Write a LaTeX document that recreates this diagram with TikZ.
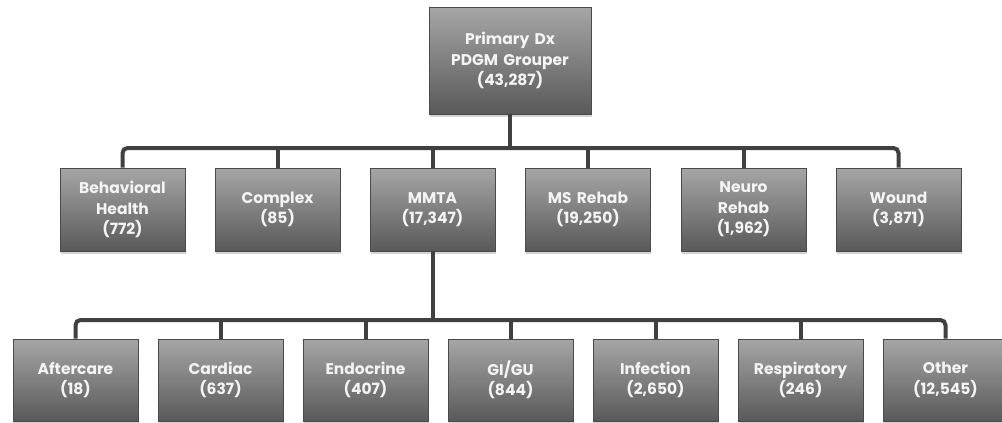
\documentclass[tikz,border=0pt]{standalone}
\usepackage{fontspec}
\setmainfont{Poppins}
\usetikzlibrary{shadows}
\definecolor{boxtop}{HTML}{A6A6A6}
\definecolor{boxbot}{HTML}{595959}
\definecolor{boxline}{HTML}{4A4A4A}
\definecolor{edge}{HTML}{404040}
\definecolor{txt}{HTML}{F4F4F4}
\begin{document}
\begin{tikzpicture}[x=1pt,y=-1pt,
  grp/.style={rectangle, draw=boxline, line width=0.8pt, top color=boxtop, bottom color=boxbot,
    minimum width=125pt, minimum height=83pt, text width=124pt, align=center, inner sep=0pt,
    text=txt, font=\bfseries\fontsize{15.5}{20.5}\selectfont,
    drop shadow={shadow xshift=0.5pt, shadow yshift=-3pt, opacity=0.35}},
  conn/.style={draw=edge, line width=4pt, rounded corners=5pt}]
\useasboundingbox (0,0) rectangle (1002,423);
% top
\node[grp, minimum width=162pt, minimum height=107pt, text width=160pt] (grp0) at (510,60.5){Primary Dx\\PDGM Grouper\\(43,287)};
% second row
\node[grp] (bh) at (122.5,209.5){Behavioral\\Health\\(772)};
\node[grp] (cx) at (277.5,209.5){Complex\\(85)};
\node[grp] (mmta) at (432.5,209.5){MMTA\\(17,347)};
\node[grp] (ms) at (588,209.5){MS Rehab\\(19,250)};
\node[grp] (nr) at (743.5,209.5){Neuro\\Rehab\\(1,962)};
\node[grp] (wd) at (898.5,209.5){Wound\\(3,871)};
% third row
\node[grp, minimum height=82pt] (af) at (75.5,380){Aftercare\\(18)};
\node[grp, minimum height=82pt] (cd) at (220.5,380){Cardiac\\(637)};
\node[grp, minimum height=82pt] (en) at (365.5,380){Endocrine\\(407)};
\node[grp, minimum height=82pt] (gi) at (510.5,380){GI/GU\\(844)};
\node[grp, minimum height=82pt] (inf) at (655.5,380){Infection\\(2,650)};
\node[grp, minimum height=82pt] (rs) at (800.5,380){Respiratory\\(246)};
\node[grp, minimum height=82pt] (ot) at (945.5,380){Other\\(12,545)};
% bars
\coordinate (bar1) at (510,148);
\coordinate (bar2) at (432.5,320);
\draw[conn](grp0) -- (bar1);
\draw[conn](bh.north) |- (bar1) -| (wd.north);
\draw[conn](cx.north) -- (cx.north |- bar1);
\draw[conn](mmta.north) -- (mmta.north |- bar1);
\draw[conn](ms.north) -- (ms.north |- bar1);
\draw[conn](nr.north) -- (nr.north |- bar1);
\draw[conn](mmta) -- (bar2);
\draw[conn](af.north) |- (bar2) -| (ot.north);
\draw[conn](cd.north) -- (cd.north |- bar2);
\draw[conn](en.north) -- (en.north |- bar2);
\draw[conn](gi.north) -- (gi.north |- bar2);
\draw[conn](inf.north) -- (inf.north |- bar2);
\draw[conn](rs.north) -- (rs.north |- bar2);
\end{tikzpicture}
\end{document}
